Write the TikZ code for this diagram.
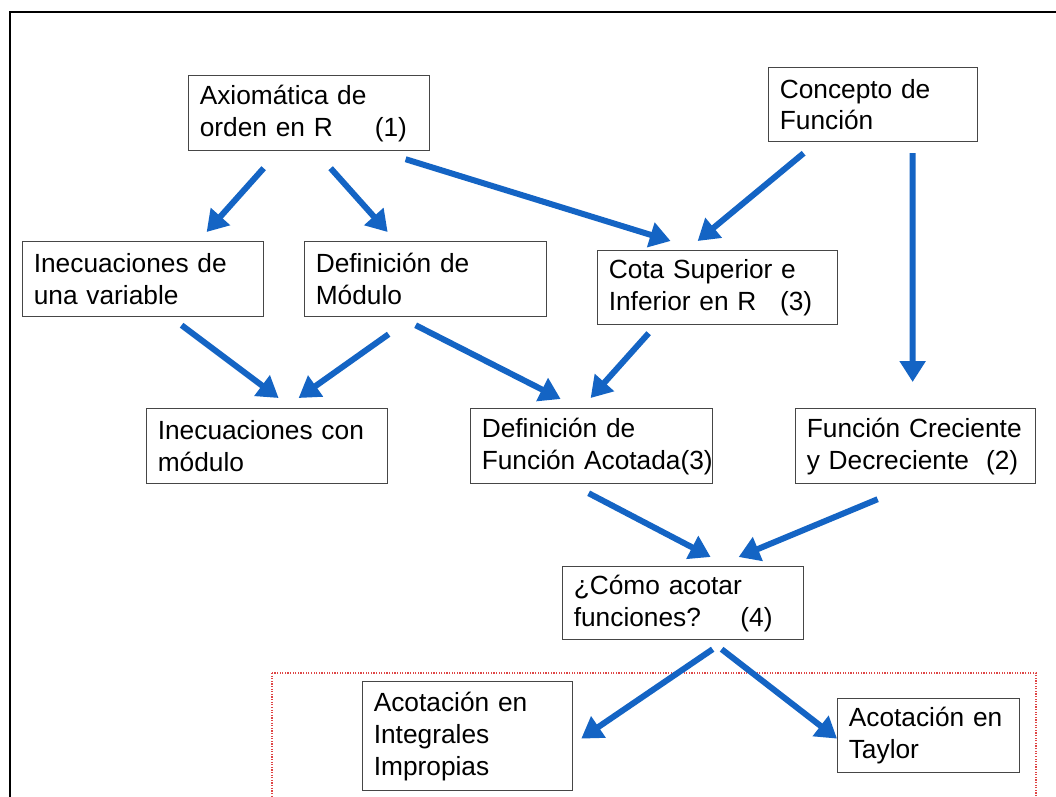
\documentclass[tikz,border=0pt]{standalone}
\usepackage{fontspec}
\setmainfont{Liberation Sans}
\usepackage{xcolor}
\usetikzlibrary{arrows.meta}

\definecolor{flowblue}{RGB}{20,100,196}
\definecolor{boxgray}{RGB}{70,70,70}
\definecolor{zonered}{RGB}{222,70,70}

\begin{document}
\begin{tikzpicture}[x=0.025cm, y=-0.025cm,
    box/.style={draw=boxgray, line width=0.03cm, anchor=north west, align=left,
      inner xsep=0.28cm, minimum height=1.875cm,
      font=\fontsize{18.7}{22.7}\selectfont},
    arr/.style={draw=flowblue, line width=0.15cm,
      -{Triangle[length=0.52cm,width=0.62cm]}}]
    \clip (0,0) rectangle (1056,796);
    \fill[white] (0,0) rectangle (1056,796);
    \draw[line width=0.05cm] (10,12) rectangle (1090,830);
    \draw[zonered, densely dotted, line width=0.03cm] (272,673) rectangle (1036,840);

    \node[box, text width=5.465cm] (ax) at (188,75) {Axiomática de\\ \mbox{orden en R\hspace{1.6em}(1)}};
    \node[box, text width=4.665cm, minimum height=1.85cm] (con) at (768,67) {Concepto de\\ Función};
    \node[box, text width=5.465cm] (in1) at (22,241) {Inecuaciones de\\ una variable};
    \node[box, text width=5.49cm] (mod) at (304,241) {Definición de\\ Módulo};
    \node[box, text width=5.44cm, minimum height=1.85cm] (cota) at (597,250) {Cota Superior e\\ \mbox{Inferior en R\hspace{0.9em}(3)}};
    \node[box, text width=5.465cm] (inm) at (146,408) {Inecuaciones con\\ módulo};
    \node[box, text width=5.49cm] (aco) at (470,408) {Definición de\\ \mbox{Función Acotada(3)}};
    \node[box, text width=5.44cm] (cre) at (795,408) {Función Creciente\\ \mbox{y Decreciente\hspace{0.65em}(2)}};
    \node[box, text width=5.465cm, minimum height=1.825cm] (como) at (562,566) {¿Cómo acotar\\ \mbox{funciones?\hspace{1.5em}(4)}};
    \node[box, text width=4.69cm, minimum height=2.725cm] (integ) at (362,681) {Acotación en\\ Integrales\\ Impropias};
    \node[box, text width=3.99cm, minimum height=1.85cm] (tay) at (837,698) {Acotación en\\ Taylor};

    \draw[arr] ([shift={(-45.5,17)}]ax.south) -- ([shift={(63.5,-9)}]in1.north);
    \draw[arr] ([shift={(21.5,17)}]ax.south) -- ([shift={(-38,-9)}]mod.north);
    \draw[arr] ([shift={(96.5,8)}]ax.south) -- ([shift={(-47,-9)}]cota.north);
    \draw[arr] ([shift={(-69.5,11)}]con.south) -- ([shift={(-20,-9)}]cota.north);
    \draw[arr] ([shift={(39.5,11)}]con.south) -- ([shift={(-3,-26)}]cre.north);
    \draw[arr] ([shift={(38.5,8)}]in1.south) -- ([shift={(11.5,-10)}]inm.north);
    \draw[arr] ([shift={(-37,17)}]mod.south) -- ([shift={(31.5,-10)}]inm.north);
    \draw[arr] ([shift={(-10,8)}]mod.south) -- ([shift={(-31,-9)}]aco.north);
    \draw[arr] ([shift={(-69,8)}]cota.south) -- ([shift={(-1,-10)}]aco.north);
    \draw[arr] ([shift={(-3,9)}]aco.south) -- ([shift={(27.5,-9)}]como.north);
    \draw[arr] ([shift={(-38,15)}]cre.south) -- ([shift={(55.5,-9)}]como.north);
    \draw[arr] ([shift={(29.5,9)}]como.south) -- ([shift={(8,2.5)}]integ.east);
    \draw[arr] ([shift={(38.5,9)}]como.south) -- ([shift={(0,3)}]tay.west);
\end{tikzpicture}
\end{document}
